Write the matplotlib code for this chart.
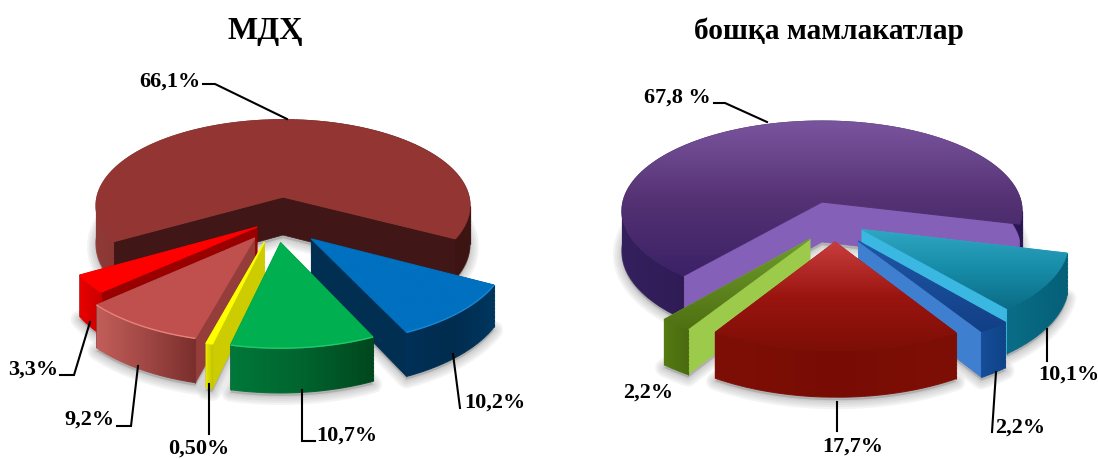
import numpy as np
import matplotlib
matplotlib.use("Agg")
import matplotlib.pyplot as plt
from matplotlib.collections import LineCollection
from matplotlib.colors import to_rgb
from matplotlib.patches import Polygon

plt.rcParams['font.family'] = ['Liberation Serif', 'DejaVu Serif']

# ---- data ----
left_title = "МДҲ"
left_values = [66.1, 10.2, 10.7, 0.5, 9.2, 3.3]
right_title = "бошқа мамлакатлар"
right_values = [67.8, 10.1, 2.2, 17.7, 2.2]

# ---- pie geometry and style ----
left_geo = dict(cx=283, cy=198, rx=186, ry=85, k=0.1, h=38, start=210)
right_geo = dict(cx=822, cy=203, rx=199, ry=89, k=0.1, h=40, start=230)

left_explode = [(0, 0), (.145, -.47), (-.012, -.51), (-.095, -.503), (-.145, -.46), (-.135, -.341)]
right_explode = [(0, 0), (.195, -.30), (.175, -.42), (.063, -.43), (-.058, -.40)]
left_order = [0, 5, 4, 1, 3, 2]
right_order = [0, 1, 4, 2, 3]

# each style: top stops (vertical), face colour, wall stops (horizontal), rim colour
left_style = [
    (['#933633', '#933633'], '#401716', ['#8f3a37', '#6e2a28', '#3f1614', '#3c1412'], None),
    (['#0070C0', '#0070C0'], '#002F52', ['#003058', '#002C4E', '#00365E'], '#1a86d0'),
    (['#00B050', '#00B050'], '#006030', ['#00783A', '#00642E', '#00471E'], '#22c96c'),
    (['#FFFF00', '#FFFF00'], '#CCCC00', ['#E6E600', '#C4C400'], None),
    (['#C0504D', '#C0504D'], '#953D3B', ['#C25E59', '#A04744', '#7A2F2D'], '#E8827A'),
    (['#FF0000', '#FF0000'], '#990000', ['#E80000', '#C80000'], None),
]
right_style = [
    (['#7A559F', '#553273', '#3B2167'], '#8560B8', ['#34205C', '#2A1650', '#3B2165', '#2A1650'], None),
    (['#2FA6C2', '#178CA8', '#0B6C86'], '#3BB8E2', ['#0A6D87', '#056078'], None),
    (['#1F57A6', '#123F86'], '#3F7FD0', ['#154D98', '#0F4488'], None),
    (['#C83E3E', '#9B1510', '#7C0E06'], '#7C0E06', ['#7E0F06', '#780C04', '#7E0F06'], None),
    (['#6F9C2D', '#4F7012'], '#9CCB4B', ['#557A12', '#4A6B10'], None),
]

# label text, anchor position, then leader-line vertices
left_labels = [
    ("66,1%", 170, 82, [(203, 85), (215, 85), (287, 120)]),
    ("10,2%", 495, 403, [(453, 355), (460, 409)]),
    ("10,7%", 347, 436, [(302, 391), (302, 442), (315, 442)]),
    ("0,50%", 199, 449, [(209, 385), (209, 435)]),
    ("9,2%", 89, 420, [(138, 367), (131, 427), (117, 427)]),
    ("3,3%", 33, 370, [(90, 323), (74, 376), (60, 376)]),
]
right_labels = [
    ("67,8 %", 677, 98, [(714, 104), (725, 104), (767, 123)]),
    ("10,1%", 1069, 375, [(1047, 330), (1047, 362)]),
    ("2,2%", 1020, 428, [(996, 373), (992, 433)]),
    ("17,7%", 853, 447, [(837, 403), (837, 432)]),
    ("2,2%", 648, 393, []),
]


def proj(g, x, y, z):
    s = 1.0 / (1.0 + g['k'] * y)
    return np.column_stack([g['cx'] + g['rx'] * x * s,
                            g['cy'] - g['ry'] * y * s + g['h'] * z * s])


def ramp(stops, n=256):
    cols = np.array([to_rgb(c) for c in stops])
    t = np.linspace(0, 1, n)
    p = np.linspace(0, 1, len(stops))
    return np.column_stack([np.interp(t, p, cols[:, i]) for i in range(3)])


def fill(ax, pts, stops, vertical, z, span=None):
    x0, y0 = pts.min(axis=0)
    x1, y1 = pts.max(axis=0)
    rgb = ramp(stops)
    if vertical:
        arr = rgb[:, None, :]
        ext = (x0, x1, y1, y0)
    else:
        arr = rgb[None, :, :]
        gx0, gx1 = span if span else (x0, x1)
        ext = (gx0, gx1, y1, y0)
    im = ax.imshow(arr, extent=ext, aspect='auto', zorder=z, interpolation='bilinear')
    im.set_clip_path(Polygon(pts, closed=True, transform=ax.transData))
    # antialiased outline that follows the same gradient
    closed = np.vstack([pts, pts[:1]])
    fine = []
    for a, b in zip(closed[:-1], closed[1:]):
        n = max(int(np.hypot(*(b - a)) / 4), 1)
        fine.append(a + (b - a) * np.linspace(0, 1, n, endpoint=False)[:, None])
    fine = np.vstack(fine + [closed[-1:]])
    segs = np.stack([fine[:-1], fine[1:]], axis=1)
    if vertical:
        t = (segs[:, :, 1].mean(axis=1) - y0) / max(y1 - y0, 1)
    else:
        t = (segs[:, :, 0].mean(axis=1) - ext[0]) / max(ext[1] - ext[0], 1)
    c = rgb[(np.clip(t, 0, 1) * 255).astype(int)]
    ax.add_collection(LineCollection(segs, colors=c, linewidths=0.8, zorder=z))


def fill_wall(ax, rt, rb, stops, z):
    # split at the horizontal extremes so that every clip polygon is a simple one
    cuts = sorted({0, int(np.argmin(rt[:, 0])), int(np.argmax(rt[:, 0])), len(rt) - 1})
    span = (rt[:, 0].min(), rt[:, 0].max())
    for i0, i1 in zip(cuts[:-1], cuts[1:]):
        piece = np.vstack([rt[i0:i1 + 1], rb[i0:i1 + 1][::-1]])
        fill(ax, piece, stops, False, z, span)


def draw_pie(ax, values, geo, explode, style, order):
    spans = np.array(values) / sum(values) * 360.0
    ends = geo['start'] - np.cumsum(spans)
    begins = ends + spans
    shapes = []
    for b, e, (ox, oy) in zip(begins, ends, explode):
        a = np.radians(np.linspace(b, e, max(int(abs(b - e)) * 2, 12)))
        shapes.append((ox, oy, ox + np.cos(a), oy + np.sin(a)))
    # soft ground shadow under every slice
    for ox, oy, rimx, rimy in shapes:
        bottom = np.vstack([proj(geo, np.array([ox]), np.array([oy]), 1.0),
                            proj(geo, rimx, rimy, 1.0)]) + [0, 3]
        for lw in (13, 10, 7, 4, 2):
            ax.add_patch(Polygon(bottom, closed=True, facecolor='#808080', edgecolor='#808080',
                                 alpha=0.09, lw=lw, zorder=1, joinstyle='round'))
    z = 2
    for i in order:
        ox, oy, rimx, rimy = shapes[i]
        top_stops, face, wall_stops, rim = style[i]
        apex_t = proj(geo, np.array([ox]), np.array([oy]), 0.0)
        apex_b = proj(geo, np.array([ox]), np.array([oy]), 1.0)
        rt = proj(geo, rimx, rimy, 0.0)
        rb = proj(geo, rimx, rimy, 1.0)
        for p_t, p_b in ((rt[0], rb[0]), (rt[-1], rb[-1])):
            ax.add_patch(Polygon(np.vstack([apex_t, p_t, p_b, apex_b]), closed=True,
                                 facecolor=face, edgecolor=face, lw=0.5, zorder=z))
        z += 1
        fill_wall(ax, rt, rb, wall_stops, z)
        z += 1
        fill(ax, np.vstack([apex_t, rt]), top_stops, True, z)
        z += 1
        if rim:
            ax.plot(rt[:, 0], rt[:, 1], color=rim, lw=1.0, zorder=z, solid_capstyle='butt')
            z += 1


def draw_labels(ax, labels):
    for text, x, y, line in labels:
        ax.text(x, y, text, ha='center', va='center', fontsize=16, fontweight='bold',
                color='black', zorder=60)
        if line:
            xs, ys = zip(*line)
            ax.plot(xs, ys, color='black', lw=1.5, zorder=50, solid_joinstyle='miter')


fig = plt.figure(figsize=(10.98, 4.6), dpi=100, facecolor='white')
ax = fig.add_axes([0, 0, 1, 1])

draw_pie(ax, left_values, left_geo, left_explode, left_style, left_order)
draw_pie(ax, right_values, right_geo, right_explode, right_style, right_order)
draw_labels(ax, left_labels)
draw_labels(ax, right_labels)

ax.text(265, 31, left_title, ha='center', va='center', fontsize=23, fontweight='bold')
ax.text(829, 31, right_title, ha='center', va='center', fontsize=21.2, fontweight='bold')

ax.set_xlim(0, 1098)
ax.set_ylim(460, 0)
ax.set_aspect('auto')
ax.axis('off')
fig.savefig('out.png', dpi=100, facecolor='white')
